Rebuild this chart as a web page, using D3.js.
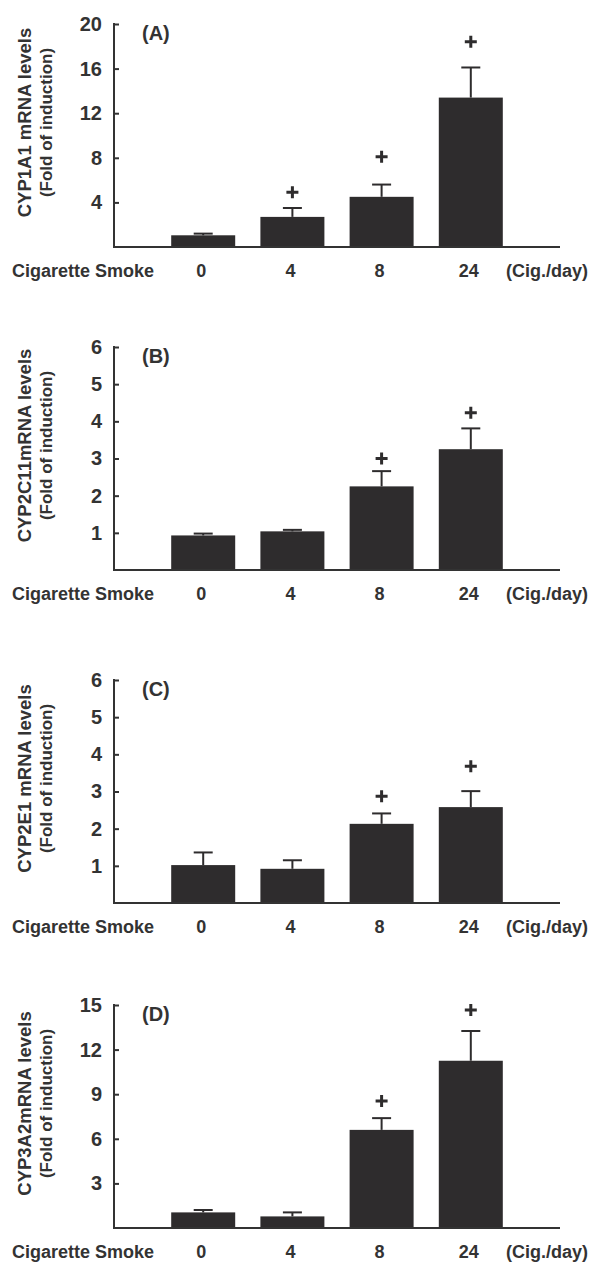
<!DOCTYPE html>
<html>
<head>
<meta charset="utf-8">
<script src="https://cdn.jsdelivr.net/npm/d3@7"></script>
<style>
  body { margin: 0; background: #fff; }
  svg text { font-family: "Liberation Sans", Arial, sans-serif; font-weight: bold; fill: #333; }
</style>
</head>
<body>
<div id="chart"></div>
<script>
// data
var doses = ['0', '4', '8', '24'];
var panelLabels = ['(A)', '(B)', '(C)', '(D)'];
var genes = ['CYP1A1 mRNA levels', 'CYP2C11mRNA levels', 'CYP2E1 mRNA levels', 'CYP3A2mRNA levels'];
var yMax = [20, 6, 6, 15];
var yTicks = [[4, 8, 12, 16, 20], [1, 2, 3, 4, 5, 6], [1, 2, 3, 4, 5, 6], [3, 6, 9, 12, 15]];

var cyp1a1 = [1.05, 2.7, 4.5, 13.4];
var cyp1a1Err = [1.2, 3.5, 5.6, 16.1];
var cyp1a1Sig = [null, 4.9, 8.1, 18.4];

var cyp2c11 = [0.93, 1.04, 2.25, 3.25];
var cyp2c11Err = [0.98, 1.08, 2.66, 3.81];
var cyp2c11Sig = [null, null, 3.0, 4.23];

var cyp2e1 = [1.02, 0.92, 2.13, 2.58];
var cyp2e1Err = [1.36, 1.15, 2.41, 3.01];
var cyp2e1Sig = [null, null, 2.87, 3.68];

var cyp3a2 = [1.05, 0.78, 6.6, 11.25];
var cyp3a2Err = [1.21, 1.05, 7.39, 13.25];
var cyp3a2Sig = [null, null, 8.55, 14.66];

var means = [cyp1a1, cyp2c11, cyp2e1, cyp3a2];
var errs = [cyp1a1Err, cyp2c11Err, cyp2e1Err, cyp3a2Err];
var sigs = [cyp1a1Sig, cyp2c11Sig, cyp2e1Sig, cyp3a2Sig];

var W = 590, H = 1262;
var panelTops = [24, 347, 680, 1005];
var plotH = 223;
var axisX = 114, axisEnd = 560;
var barW = 64;
var ink = '#2e2c2d';

var svg = d3.select('#chart').append('svg')
    .attr('width', W)
    .attr('height', H);

var x = d3.scaleLinear().domain([0, 5]).range([axisX, axisEnd]);

function drawPanel(i) {
    var top = panelTops[i];
    var base = top + plotH;
    var g = svg.append('g');

    var y = d3.scaleLinear().domain([0, yMax[i]]).range([base, top]);

    // bars
    g.selectAll('rect.bar')
        .data(means[i])
        .enter()
        .append('rect')
        .attr('class', 'bar')
        .attr('x', function (d, j) { return x(j + 1) - barW / 2; })
        .attr('y', function (d) { return y(d); })
        .attr('width', barW)
        .attr('height', function (d) { return base - y(d); })
        .attr('fill', ink);

    // upper error whiskers
    var eb = g.selectAll('g.err')
        .data(errs[i])
        .enter()
        .append('g')
        .attr('class', 'err');
    eb.append('line')
        .attr('x1', function (d, j) { return x(j + 1); })
        .attr('x2', function (d, j) { return x(j + 1); })
        .attr('y1', function (d, j) { return y(means[i][j]); })
        .attr('y2', function (d) { return y(d); })
        .attr('stroke', ink)
        .attr('stroke-width', 2);
    eb.append('line')
        .attr('x1', function (d, j) { return x(j + 1) - 9.5; })
        .attr('x2', function (d, j) { return x(j + 1) + 9.5; })
        .attr('y1', function (d) { return y(d); })
        .attr('y2', function (d) { return y(d); })
        .attr('stroke', ink)
        .attr('stroke-width', 2);

    // significance marks (+)
    var pl = g.selectAll('g.sig')
        .data(sigs[i].map(function (v, j) { return {v: v, j: j}; }).filter(function (d) { return d.v !== null; }))
        .enter()
        .append('g')
        .attr('class', 'sig')
        .attr('transform', function (d) { return 'translate(' + x(d.j + 1) + ',' + y(d.v) + ')'; });
    pl.append('path')
        .attr('d', 'M-6,0H6M0,-6V6')
        .attr('stroke', ink)
        .attr('stroke-width', 3);

    // y axis, ticks pointing inwards
    var ya = g.append('g')
        .attr('transform', 'translate(' + axisX + ',0)')
        .call(d3.axisLeft(y).tickValues(yTicks[i]).tickFormat(d3.format('d'))
            .tickSizeInner(-5).tickSizeOuter(0).tickPadding(12));
    ya.select('.domain').attr('stroke', '#333').attr('stroke-width', 2)
        .attr('d', 'M0,' + (top - 1) + 'V' + base);
    ya.selectAll('.tick line').attr('stroke', '#333').attr('stroke-width', 2);
    ya.selectAll('.tick text')
        .style('font-size', '20px')
        .style('font-family', '"Liberation Sans", Arial, sans-serif')
        .style('font-weight', 'bold')
        .attr('fill', '#333');

    // x axis line
    g.append('line')
        .attr('x1', axisX - 1)
        .attr('x2', axisEnd)
        .attr('y1', base)
        .attr('y2', base)
        .attr('stroke', '#333')
        .attr('stroke-width', 2);

    // x labels
    var ly = base + 30;
    g.append('text')
        .attr('x', 12)
        .attr('y', ly)
        .style('font-size', '18px')
        .text('Cigarette Smoke');
    g.selectAll('text.dose')
        .data(doses)
        .enter()
        .append('text')
        .attr('class', 'dose')
        .attr('x', function (d, j) { return x(j + 1) - 2; })
        .attr('y', ly)
        .attr('text-anchor', 'middle')
        .style('font-size', '18px')
        .text(function (d) { return d; });
    g.append('text')
        .attr('x', 588)
        .attr('y', ly)
        .attr('text-anchor', 'end')
        .style('font-size', '18px')
        .text('(Cig./day)');

    // panel label
    g.append('text')
        .attr('x', axisX + 28)
        .attr('y', top + 16)
        .style('font-size', '20px')
        .text(panelLabels[i]);

    // y title
    var cy = (top + base) / 2 - 13;
    g.append('text')
        .attr('transform', 'translate(24,' + cy + ') rotate(-90)')
        .attr('text-anchor', 'middle')
        .attr('dominant-baseline', 'central')
        .style('font-size', '18.5px')
        .text(genes[i]);
    g.append('text')
        .attr('transform', 'translate(46,' + cy + ') rotate(-90)')
        .attr('text-anchor', 'middle')
        .attr('dominant-baseline', 'central')
        .style('font-size', '17px')
        .text('(Fold of induction)');
}

for (var i = 0; i < 4; i++) {
    drawPanel(i);
}
</script>
</body>
</html>
